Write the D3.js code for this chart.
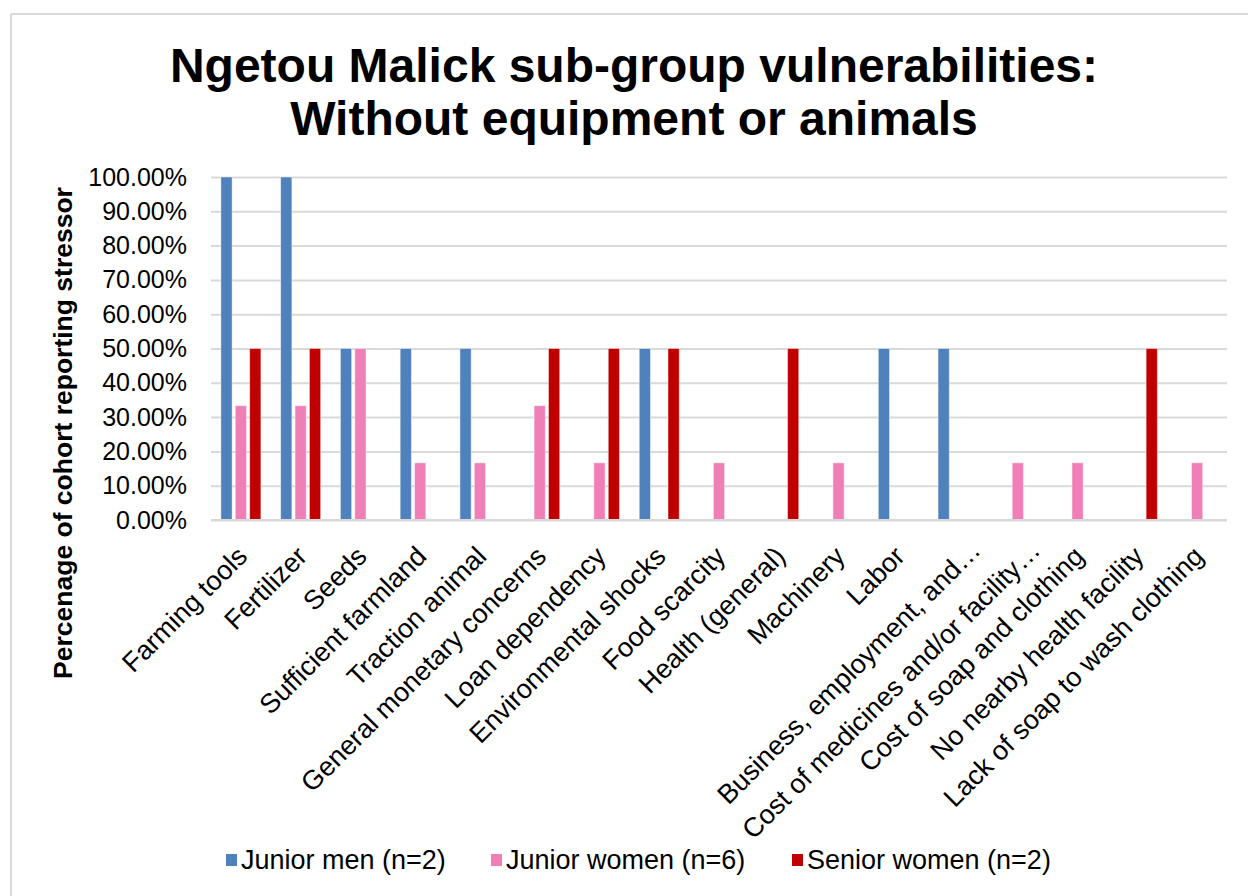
<!DOCTYPE html>
<html>
<head>
<meta charset="utf-8">
<script src="https://cdn.jsdelivr.net/npm/d3@7"></script>
<style>
  html, body { margin: 0; padding: 0; background: #fff; }
  svg { display: block; font-family: "Liberation Sans", Arial, sans-serif; }
</style>
</head>
<body>
<svg id="chart" width="1248" height="896"></svg>
<script>
const categories = [
  "Farming tools", "Fertilizer", "Seeds", "Sufficient farmland", "Traction animal",
  "General monetary concerns", "Loan dependency", "Environmental shocks", "Food scarcity",
  "Health (general)", "Machinery", "Labor", "Business, employment, and\u2026",
  "Cost of medicines and/or facility\u2026", "Cost of soap and clothing",
  "No nearby health facility", "Lack of soap to wash clothing"
];
const seriesNames = ["Junior men (n=2)", "Junior women (n=6)", "Senior women (n=2)"];
const juniorMen   = [1, 1, 0.5, 0.5, 0.5, 0, 0, 0.5, 0, 0, 0, 0.5, 0.5, 0, 0, 0, 0];
const juniorWomen = [0.3333, 0.3333, 0.5, 0.1667, 0.1667, 0.3333, 0.1667, 0, 0.1667, 0, 0.1667, 0, 0, 0.1667, 0.1667, 0, 0.1667];
const seniorWomen = [0.5, 0.5, 0, 0, 0, 0.5, 0.5, 0.5, 0, 0.5, 0, 0, 0, 0, 0, 0.5, 0];
const yTicks = [0, 0.1, 0.2, 0.3, 0.4, 0.5, 0.6, 0.7, 0.8, 0.9, 1.0];
const colors = ["#4F81BD", "#F07FB8", "#C00000"];
const titleLines = ["Ngetou Malick sub-group vulnerabilities:", "Without equipment or animals"];
const yTitle = "Percenage of cohort reporting stressor";

const seriesValues = [juniorMen, juniorWomen, seniorWomen];

const svg = d3.select("#chart");
const W = 1248, H = 896;
const plot = { left: 211, right: 1227, top: 177, bottom: 520 };

// outer frame (top and left only visible)
svg.append("line").attr("x1", 11).attr("x2", W).attr("y1", 14).attr("y2", 14)
  .attr("stroke", "#D9D9D9").attr("stroke-width", 2);
svg.append("line").attr("x1", 11).attr("x2", 11).attr("y1", 14).attr("y2", H)
  .attr("stroke", "#D9D9D9").attr("stroke-width", 2);

// title
svg.append("g").selectAll("text").data(titleLines).join("text")
  .attr("x", 634).attr("y", (d, i) => 82 + i * 53)
  .attr("text-anchor", "middle")
  .attr("font-size", 48).attr("font-weight", "bold").attr("fill", "#000")
  .text(d => d);

const x0 = d3.scaleBand().domain(categories).range([plot.left, plot.right]).paddingInner(0).paddingOuter(0);
const groupW = 40;
const x1 = d3.scaleBand().domain(d3.range(3)).range([0, groupW]).paddingInner(0.22);
const y = d3.scaleLinear().domain([0, 1]).range([plot.bottom, plot.top]);

// gridlines
svg.append("g")
  .attr("transform", `translate(${plot.left},0)`)
  .call(d3.axisLeft(y).tickValues(yTicks).tickSize(-(plot.right - plot.left)).tickFormat(""))
  .call(g => g.select(".domain").remove())
  .call(g => g.selectAll("line").attr("stroke", "#D9D9D9").attr("stroke-width", 2));

// y tick labels
svg.append("g")
  .attr("transform", `translate(${plot.left},0)`)
  .call(d3.axisLeft(y).tickValues(yTicks).tickSize(0).tickPadding(24).tickFormat(d3.format(".2%")))
  .call(g => g.select(".domain").remove())
  .call(g => g.selectAll("text").attr("font-size", 25).attr("fill", "#000")
    .attr("font-family", "'Liberation Sans', Arial, sans-serif"));

// bars
const groups = svg.append("g").selectAll("g").data(categories).join("g")
  .attr("transform", d => `translate(${x0(d) + (x0.bandwidth() - groupW) / 2},0)`);
groups.selectAll("rect")
  .data((d, i) => seriesValues.map((s, k) => ({ k, v: s[i] })).filter(o => o.v > 0))
  .join("rect")
  .attr("x", o => x1(o.k))
  .attr("width", x1.bandwidth())
  .attr("y", o => y(o.v))
  .attr("height", o => y(0) - y(o.v))
  .attr("fill", o => colors[o.k])
  .attr("stroke", "rgba(255,255,255,0.45)")
  .attr("stroke-width", 1);

// baseline
svg.append("line").attr("x1", plot.left).attr("x2", plot.right)
  .attr("y1", y(0)).attr("y2", y(0)).attr("stroke", "#D9D9D9").attr("stroke-width", 2);

// x labels (truncated labels sit a little further out, as in the original)
svg.append("g").selectAll("text").data(categories).join("text")
  .attr("transform", d => {
    const trunc = d.endsWith("\u2026");
    const dx = trunc ? 24 : 8, dy = trunc ? 32 : 38;
    return `translate(${x0(d) + x0.bandwidth() / 2 + dx},${plot.bottom + dy}) rotate(-45)`;
  })
  .attr("text-anchor", "end")
  .attr("font-size", 27).attr("fill", "#000")
  .text(d => d);

// y title
svg.append("text")
  .attr("transform", `translate(72,433) rotate(-90)`)
  .attr("text-anchor", "middle")
  .attr("font-size", 26.5).attr("font-weight", "bold").attr("fill", "#000")
  .text(yTitle);

// legend
const legendX = [226, 491, 792];
const lg = svg.append("g").selectAll("g").data(seriesNames).join("g")
  .attr("transform", (d, i) => `translate(${legendX[i]},860)`);
lg.append("rect").attr("x", 0).attr("y", -6).attr("width", 11).attr("height", 12)
  .attr("fill", (d, i) => colors[i]);
lg.append("text").attr("x", 15).attr("y", 9).attr("font-size", 27).attr("fill", "#000").text(d => d);
</script>
</body>
</html>
